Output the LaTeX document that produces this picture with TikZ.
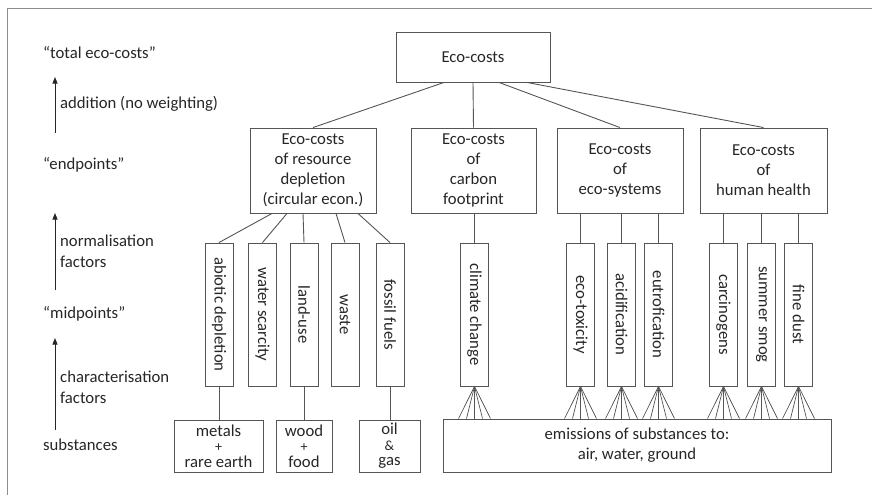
\documentclass[tikz,border=0pt]{standalone}
\usepackage{fontspec}
\setmainfont{Carlito}
\usetikzlibrary{calc,arrows.meta}
\definecolor{ln}{HTML}{555555}
\definecolor{tx}{HTML}{262626}
\definecolor{fr}{HTML}{8C8C8C}
\newcommand{\midsym}[1]{{\fontsize{14}{14}\selectfont #1}}
\begin{document}
\begin{tikzpicture}[x=1pt,y=-1pt,
  every node/.style={text=tx, font=\fontsize{16.7}{20}\selectfont, inner sep=0pt},
  box/.style={draw=ln, line width=0.9pt, align=center},
  vbox/.style={draw=ln, line width=0.9pt, rotate=-90, minimum width=143, minimum height=28},
  sbox/.style={box, minimum height=52, font=\fontsize{16.7}{15.5}\selectfont},
  conn/.style={draw=ln, line width=0.9pt},
  fan/.style={draw=ln, line width=0.7pt},
  arr/.style={draw=tx, line width=1pt, -{Triangle[length=6.5pt,width=5pt]}},
  lab/.style={anchor=west, align=left, font=\fontsize{16.7}{21}\selectfont}]
\useasboundingbox (0,0) rectangle (872,495);
\draw[fr, line width=0.9pt] (7,495) -- (7,8) -- (872,8);

% left annotations
\node[lab] (t1) at (43,53) {“total eco-costs”};
\node[lab] (t2) at (60,104) {addition (no weighting)};
\node[lab] (t3) at (43,165) {“endpoints”};
\node[lab] (t4) at (60,251.5) {normalisation\\factors};
\node[lab] (t5) at (43,314) {“midpoints”};
\node[lab] (t6) at (60,387) {characterisation\\factors};
\node[lab] (t7) at (43,445) {substances};
\coordinate (a1s) at (55,133); \coordinate (a1e) at (55,77);
\coordinate (a2s) at (55,290); \coordinate (a2e) at (55,213);
\coordinate (a3s) at (55,430); \coordinate (a3e) at (55,338);
\draw[arr] (a1s) -- (a1e);
\draw[arr] (a2s) -- (a2e);
\draw[arr] (a3s) -- (a3e);

% top
\node[box, minimum width=154, minimum height=50] (top) at (473,57) {Eco-costs};
\node[box, minimum width=126, minimum height=85] (res) at (313,170.5) {Eco-costs\\of resource\\depletion\\(circular econ.)};
\node[box, minimum width=125, minimum height=85] (carb) at (473.5,170.5) {Eco-costs\\of\\carbon\\footprint};
\node[box, minimum width=126, minimum height=85] (eco) at (620,170.5) {Eco-costs\\of\\eco-systems};
\node[box, minimum width=127, minimum height=85] (hum) at (763.5,170.5) {Eco-costs\\of\\human health};

\draw[conn] ($(top.south)+(-29,0)$) -- (res.north);
\draw[conn] (top.south) -- (carb.north);
\draw[conn] ($(top.south)+(26,0)$) -- (eco.north);
\draw[conn] ($(top.south)+(54,0)$) -- (hum.north);

% midpoints
\node[vbox] (abio) at (219,314.5) {abiotic depletion};
\node[vbox] (water) at (262.5,314.5) {water scarcity};
\node[vbox] (land) at (304,314.5) {land-use};
\node[vbox] (waste) at (345,314.5) {waste};
\node[vbox] (fossil) at (390,314.5) {fossil fuels};
\node[vbox] (clim) at (474.5,314.5) {climate change};
\node[vbox] (tox) at (580.5,314.5) {eco-toxicity};
\node[vbox] (acid) at (621.5,314.5) {acidification};
\node[vbox] (eutro) at (658.5,314.5) {eutrofication};
\node[vbox] (carc) at (723.5,314.5) {carcinogens};
\node[vbox] (smog) at (761.5,314.5) {summer smog};
\node[vbox] (dust) at (798.5,314.5) {fine dust};

\draw[conn] ($(res.south)+(-41,0)$) -- (abio.west);
\draw[conn] ($(res.south)+(-26,0)$) -- (water.west);
\draw[conn] ($(res.south)+(-10,0)$) -- (land.west);
\draw[conn] ($(res.south)+(23,0)$) -- (waste.west);
\draw[conn] ($(res.south)+(45,0)$) -- (fossil.west);
\draw[conn] (clim.west) -- (clim.west |- carb.south);
\foreach \n in {tox,acid,eutro}{\draw[conn] (\n.west) -- (\n.west |- eco.south);}
\foreach \n in {carc,smog,dust}{\draw[conn] (\n.west) -- (\n.west |- hum.south);}

% substances
\node[sbox, minimum width=89] (metals) at (218.5,446) {metals\\\midsym{+}\\rare earth};
\node[sbox, minimum width=56] (wood) at (304,446) {wood\\\midsym{+}\\food};
\node[sbox, minimum width=61] (oil) at (389.5,446) {oil\\\midsym{\&}\\gas};
\node[box, minimum width=388, minimum height=53] (emis) at (637,445.5) {emissions of substances to:\\air, water, ground};

\draw[conn] (abio.east) -- (abio.east |- metals.north);
\draw[conn] (land.east) -- (land.east |- wood.north);
\draw[conn] (fossil.east) -- (fossil.east |- oil.north);
\foreach \n in {clim,tox,acid,eutro,carc,smog,dust}{
  \foreach \d in {-16,-8,0,8,16}{
    \draw[fan] (\n.east) -- ($(\n.east |- emis.north)+(\d,0)$);
  }
}
\end{tikzpicture}
\end{document}
